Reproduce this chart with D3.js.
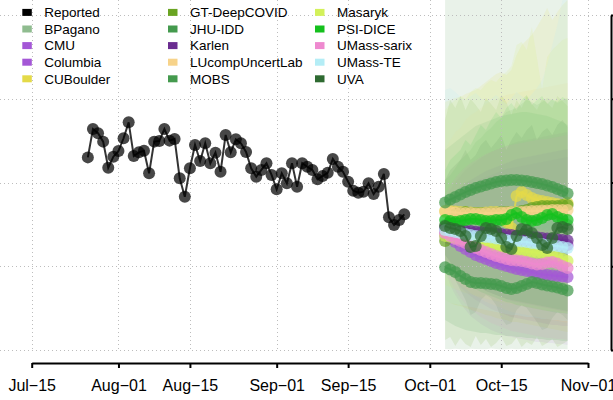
<!DOCTYPE html>
<html>
<head>
<meta charset="utf-8">
<script src="https://cdn.jsdelivr.net/npm/d3@7"></script>
<style>
  html, body { margin: 0; padding: 0; background: #fff; }
  svg { display: block; font-family: "Liberation Sans", Arial, Helvetica, sans-serif; }
</style>
</head>
<body>
<svg id="chart" width="613" height="400"></svg>
<script>
// ---- axis ticks ----
const tickDates = ["2021-07-15", "2021-08-01", "2021-08-15", "2021-09-01", "2021-09-15", "2021-10-01", "2021-10-15", "2021-11-01"];
const tickLabels = ["Jul\u221215", "Aug\u221201", "Aug\u221215", "Sep\u221201", "Sep\u221215", "Oct\u221201", "Oct\u221215", "Nov\u221201"];
const yTicks = [0, 500, 1000, 1500, 2000];

// ---- reported daily counts ----
const reportedStart = "2021-07-26";
const reported = [1150, 1319, 1294, 1244, 1088, 1154, 1188, 1264, 1359, 1158,
  1180, 1190, 1055, 1244, 1248, 1319, 1250, 1260, 1025, 915,
  1085, 1224, 1128, 1234, 1115, 1178, 1064, 1284, 1180, 1258,
  1234, 1182, 1085, 1035, 1075, 1115, 1045, 959, 1055, 995,
  1115, 975, 1115, 1094, 1075, 1019, 1039, 1058, 1140, 1094,
  1064, 1005, 951, 939, 945, 995, 931, 975, 1051, 792,
  746, 776, 810];

// ---- forecasts: daily from this date ----
const forecastStart = "2021-10-04";

const modelNames = ["BPagano", "CMU", "Columbia", "CUBoulder", "GT-DeepCOVID", "JHU-IDD", "Karlen",
  "LUcompUncertLab", "MOBS", "Masaryk", "PSI-DICE", "UMass-sarix", "UMass-TE", "UVA"];
const modelColors = ["#8fbc8f", "#a457d6", "#a457d6", "#e4da48", "#6aa422", "#449a4e", "#6a2c90",
  "#f7d38a", "#449a4e", "#d3f15a", "#14c01d", "#ee89cf", "#b4edf6", "#2e6a31"];
const bandOpacity = [0.2, 0.09, 0.09, 0.12, 0.12, 0.12, 0.08, 0.12, 0.12, 0.12, 0.1, 0.09, 0.15, 0.08];

const bpaganoMedian = [746, 752, 743, 749, 755, 746, 740, 749, 752, 746, 743, 749, 755, 752, 746, 743, 749, 752, 758, 752, 746, 749, 755, 752, 746];
const bpaganoLower = [6, 4, 8, 5, 3, 7, 6, 4, 5, 9, 6, 3, 5, 7, 4, 6, 8, 5, 3, 6, 7, 4, 5, 6, 4];
const bpaganoUpper = [2260, 2310, 2280, 2330, 2300, 2270, 2320, 2350, 2290, 2310, 2340, 2300, 2280, 2330, 2360, 2310, 2290, 2340, 2320, 2370, 2300, 2330, 2350, 2310, 2340];

const cmuMedian = [681, 663, 645, 621, 603, 585, 567, 555, 543, 531, 519, 510, 501, 493, 484, 478, 472, 466, 457, 451, 448, 445, 442, 439, 436];
const cmuLower = [478, 388, 328, 281, 239, 203, 179, 155, 137, 119, 107, 96, 84, 78, 72, 66, 60, 54, 48, 48, 42, 42, 36, 36, 30];
const cmuUpper = [866, 896, 919, 943, 967, 985, 1003, 1021, 1033, 1045, 1057, 1069, 1081, 1087, 1093, 1098, 1104, 1110, 1116, 1122, 1128, 1134, 1140, 1146, 1152];

const columbiaMedian = [704, 699, 697, 693, 688, 686, 681, 679, 675, 671, 669, 667, 663, 659, 657, 654, 650, 648, 645, 641, 639, 636, 633, 630, 627];
const columbiaLower = [525, 466, 418, 376, 346, 322, 299, 281, 263, 245, 233, 221, 209, 197, 191, 185, 179, 173, 167, 161, 155, 149, 149, 143, 143];
const columbiaUpper = [896, 955, 1003, 1039, 1075, 1098, 1122, 1146, 1164, 1182, 1194, 1206, 1218, 1230, 1242, 1248, 1254, 1260, 1266, 1272, 1278, 1284, 1290, 1295, 1301];

const cuboulderMedian = [830, 830, 827, 824, 824, 821, 818, 818, 821, 824, 824, 818, 764, 728, 919, 943, 925, 907, 896, 890, 884, 878, 872, 866, 878];
const cuboulderLower = [299, 281, 269, 263, 251, 239, 233, 221, 209, 203, 191, 185, 179, 167, 167, 161, 155, 149, 143, 137, 131, 125, 119, 113, 107];
const cuboulderUpper = [1481, 1493, 1504, 1510, 1528, 1540, 1552, 1576, 1600, 1624, 1648, 1660, 1642, 1672, 1761, 1821, 1851, 1881, 1928, 1982, 2042, 1970, 2018, 2060, 2090];

const gtMedian = [651, 764, 812, 818, 824, 818, 818, 818, 818, 818, 818, 824, 824, 824, 824, 830, 836, 848, 854, 860, 860, 860, 860, 866, 866];
const gtLower = [60, 78, 24, 72, 36, 18, 84, 30, 66, 18, 42, 78, 24, 36, 72, 18, 48, 30, 78, 24, 42, 66, 18, 36, 54];
const gtUpper = [1373, 1493, 1445, 1516, 1433, 1498, 1463, 1421, 1504, 1469, 1433, 1522, 1481, 1403, 1493, 1445, 1516, 1469, 1433, 1498, 1475, 1445, 1516, 1487, 1457];

const jhuMedian = [494, 481, 466, 442, 424, 406, 400, 400, 397, 394, 391, 382, 370, 364, 370, 382, 394, 406, 400, 391, 385, 379, 373, 364, 355];
const jhuLower = [179, 161, 143, 131, 119, 113, 107, 101, 101, 96, 90, 90, 84, 84, 78, 78, 72, 72, 66, 66, 60, 60, 60, 54, 54];
const jhuUpper = [1015, 1045, 1087, 1134, 1164, 1194, 1242, 1266, 1301, 1325, 1361, 1385, 1421, 1433, 1445, 1469, 1493, 1481, 1463, 1481, 1504, 1493, 1475, 1493, 1504];

const karlenMedian = [728, 722, 720, 716, 712, 710, 706, 704, 700, 698, 695, 693, 689, 687, 684, 681, 679, 675, 673, 669, 666, 663, 661, 657, 654];
const karlenLower = [567, 525, 490, 460, 430, 406, 388, 370, 352, 340, 328, 316, 304, 293, 287, 281, 275, 269, 263, 257, 251, 245, 239, 233, 227];
const karlenUpper = [896, 925, 949, 973, 997, 1015, 1033, 1051, 1069, 1081, 1093, 1104, 1116, 1128, 1140, 1146, 1152, 1158, 1164, 1170, 1176, 1182, 1188, 1194, 1200];

const lucompMedian = [824, 824, 821, 818, 818, 818, 815, 815, 818, 818, 818, 821, 821, 824, 824, 824, 827, 830, 830, 833, 833, 836, 836, 836, 836];
const lucompLower = [478, 442, 412, 388, 364, 340, 322, 304, 287, 275, 263, 251, 239, 227, 221, 215, 209, 203, 197, 191, 185, 179, 173, 167, 161];
const lucompUpper = [1194, 1254, 1301, 1325, 1373, 1403, 1421, 1445, 1469, 1487, 1498, 1510, 1522, 1528, 1534, 1540, 1546, 1552, 1558, 1564, 1570, 1576, 1582, 1588, 1594];

const mobsMedian = [881, 898, 913, 928, 943, 955, 967, 976, 985, 994, 1003, 1009, 1012, 1015, 1015, 1012, 1009, 1003, 997, 991, 982, 973, 961, 949, 934];
const mobsLower = [567, 525, 490, 460, 436, 412, 388, 370, 352, 340, 328, 316, 304, 299, 293, 287, 281, 275, 269, 263, 257, 251, 245, 239, 233];
const mobsUpper = [1194, 1218, 1242, 1266, 1290, 1313, 1337, 1349, 1361, 1373, 1385, 1397, 1403, 1409, 1415, 1421, 1421, 1415, 1409, 1403, 1397, 1385, 1373, 1361, 1343];

const masarykMedian = [681, 676, 668, 663, 658, 650, 646, 638, 633, 628, 620, 615, 609, 602, 597, 591, 588, 585, 581, 579, 573, 567, 555, 543, 531];
const masarykLower = [388, 376, 364, 352, 340, 334, 322, 316, 304, 299, 293, 287, 281, 275, 269, 263, 257, 251, 245, 239, 233, 233, 227, 221, 221];
const masarykUpper = [1433, 1469, 1493, 1516, 1498, 1540, 1564, 1552, 1588, 1612, 1600, 1636, 1660, 1695, 1821, 1839, 1791, 1928, 1743, 1552, 1749, 1791, 1821, 1851, 1863];

const psiMedian = [776, 770, 764, 770, 776, 782, 782, 776, 770, 770, 776, 776, 782, 806, 818, 794, 776, 770, 776, 788, 806, 812, 794, 782, 776];
const psiLower = [525, 478, 448, 430, 406, 382, 364, 346, 334, 322, 310, 299, 287, 281, 269, 263, 257, 251, 245, 239, 233, 227, 221, 221, 215];
const psiUpper = [1075, 1134, 1164, 1194, 1254, 1224, 1284, 1343, 1313, 1373, 1421, 1385, 1445, 1475, 1433, 1493, 1522, 1463, 1493, 1516, 1469, 1498, 1481, 1510, 1493];

const sarixMedian = [698, 681, 663, 651, 639, 624, 609, 597, 585, 573, 561, 552, 543, 537, 534, 531, 525, 516, 510, 513, 522, 525, 516, 501, 490];
const sarixLower = [490, 418, 358, 310, 275, 245, 221, 197, 179, 161, 149, 137, 125, 113, 107, 101, 96, 90, 84, 78, 72, 72, 66, 66, 60];
const sarixUpper = [925, 985, 1027, 1063, 1093, 1116, 1134, 1152, 1170, 1182, 1194, 1206, 1218, 1224, 1230, 1236, 1242, 1248, 1254, 1260, 1260, 1266, 1272, 1278, 1284];

const umassTeMedian = [716, 710, 704, 698, 693, 687, 681, 678, 675, 672, 666, 663, 657, 654, 651, 648, 645, 639, 636, 633, 627, 624, 621, 615, 609];
const umassTeLower = [299, 281, 275, 269, 263, 257, 251, 245, 239, 233, 227, 221, 215, 209, 209, 203, 197, 197, 191, 185, 185, 179, 179, 173, 173];
const umassTeUpper = [1552, 1564, 1540, 1510, 1493, 1516, 1534, 1504, 1487, 1498, 1522, 1493, 1469, 1504, 1540, 1516, 1493, 1528, 1564, 1612, 1701, 1821, 1940, 2090, 2209];

const uvaMedian = [740, 728, 722, 710, 681, 615, 621, 681, 728, 722, 710, 669, 615, 603, 681, 722, 716, 698, 669, 627, 609, 669, 728, 734, 722];
const uvaLower = [478, 448, 418, 358, 299, 209, 227, 299, 328, 310, 269, 191, 149, 161, 239, 269, 251, 209, 167, 119, 131, 191, 227, 209, 179];
const uvaUpper = [1015, 1075, 1104, 1134, 1194, 1134, 1164, 1224, 1254, 1206, 1242, 1284, 1194, 1254, 1301, 1266, 1313, 1343, 1254, 1301, 1325, 1284, 1343, 1373, 1331];

const medians = [bpaganoMedian, cmuMedian, columbiaMedian, cuboulderMedian, gtMedian, jhuMedian, karlenMedian,
  lucompMedian, mobsMedian, masarykMedian, psiMedian, sarixMedian, umassTeMedian, uvaMedian];
const lowers = [bpaganoLower, cmuLower, columbiaLower, cuboulderLower, gtLower, jhuLower, karlenLower,
  lucompLower, mobsLower, masarykLower, psiLower, sarixLower, umassTeLower, uvaLower];
const uppers = [bpaganoUpper, cmuUpper, columbiaUpper, cuboulderUpper, gtUpper, jhuUpper, karlenUpper,
  lucompUpper, mobsUpper, masarykUpper, psiUpper, sarixUpper, umassTeUpper, uvaUpper];

// ---- setup ----
const svg = d3.select("#chart");
const parse = d3.utcParse("%Y-%m-%d");
const dayAfter = (start, i) => d3.utcDay.offset(parse(start), i);

const x = d3.scaleUtc()
  .domain([parse(tickDates[0]), parse(tickDates[tickDates.length - 1])])
  .range([31.7, 588]);
const y = d3.scaleLinear().domain([0, 2000]).range([350, 15]);

const models = modelNames.map((name, m) => ({
  name,
  color: modelColors[m],
  opacity: bandOpacity[m],
  points: medians[m].map((v, i) => ({ date: dayAfter(forecastStart, i), v, lo: lowers[m][i], hi: uppers[m][i] }))
}));
const reportedPts = reported.map((v, i) => ({ date: dayAfter(reportedStart, i), v }));

// ---- prediction intervals ----
const band = d3.area()
  .x(d => x(d.date))
  .y0(d => y(d.lo))
  .y1(d => y(d.hi));
svg.append("g").selectAll("path").data(models).join("path")
  .attr("d", d => band(d.points))
  .attr("fill", d => d.color)
  .attr("fill-opacity", d => d.opacity)
  .attr("stroke", "none");

// ---- dotted grid ----
const grid = svg.append("g")
  .attr("stroke", "#bdbdbd")
  .attr("stroke-width", 1)
  .attr("stroke-dasharray", "1,3");
grid.selectAll("line.h").data(yTicks).join("line").attr("class", "h")
  .attr("x1", 0).attr("x2", 611)
  .attr("y1", d => Math.round(y(d)) + 0.5).attr("y2", d => Math.round(y(d)) + 0.5);
grid.selectAll("line.v").data(tickDates).join("line").attr("class", "v")
  .attr("x1", d => Math.round(x(parse(d))) + 0.5).attr("x2", d => Math.round(x(parse(d))) + 0.5)
  .attr("y1", 0).attr("y2", 350);

// ---- reported series ----
const line = d3.line().x(d => x(d.date)).y(d => y(d.v));
svg.append("path").datum(reportedPts)
  .attr("d", line)
  .attr("fill", "none").attr("stroke", "#000").attr("stroke-opacity", 0.8).attr("stroke-width", 2);
svg.append("g").selectAll("circle").data(reportedPts).join("circle")
  .attr("cx", d => x(d.date)).attr("cy", d => y(d.v)).attr("r", 6)
  .attr("fill", "#000").attr("fill-opacity", 0.72);

// ---- forecast medians ----
const mg = svg.append("g");
models.forEach(m => {
  mg.append("path").datum(m.points)
    .attr("d", line)
    .attr("fill", "none").attr("stroke", m.color).attr("stroke-opacity", 0.8).attr("stroke-width", 2);
  mg.append("g").selectAll("circle").data(m.points).join("circle")
    .attr("cx", d => x(d.date)).attr("cy", d => y(d.v)).attr("r", 6)
    .attr("fill", m.color).attr("fill-opacity", 0.72);
});

// ---- axes ----
const xAxis = d3.axisBottom(x)
  .tickValues(tickDates.map(parse))
  .tickFormat((d, i) => tickLabels[i])
  .tickSize(5).tickSizeOuter(0).tickPadding(12);
const gx = svg.append("g").attr("transform", "translate(0,363)").call(xAxis);
gx.select(".domain").attr("stroke", "#000").attr("stroke-width", 2);
gx.selectAll(".tick line").attr("stroke", "#000").attr("stroke-width", 2);
gx.selectAll(".tick text").attr("fill", "#000").style("font-size", "16px")
  .style("font-family", "'Liberation Sans', Arial, Helvetica, sans-serif");

const yAxis = d3.axisRight(y).tickValues(yTicks).tickFormat("").tickSize(8).tickSizeOuter(0);
const gy = svg.append("g").attr("transform", "translate(611,0)").call(yAxis);
gy.select(".domain").attr("stroke", "#000").attr("stroke-width", 2);
gy.selectAll(".tick line").attr("stroke", "#000").attr("stroke-width", 2);

// ---- legend ----
const legendItems = [{ name: "Reported", color: "#000" }].concat(models.map(m => ({ name: m.name, color: m.color })));
const colX = [22.3, 168, 315];
const rowY = [12.4, 29, 45.6, 62.2, 78.8];
const lg = svg.append("g");
legendItems.forEach((it, k) => {
  const c = Math.floor(k / 5), r = k % 5;
  lg.append("rect")
    .attr("x", colX[c]).attr("y", rowY[r] - 3.5)
    .attr("width", 9.5).attr("height", 7)
    .attr("fill", it.color);
  lg.append("text")
    .attr("x", colX[c] + 22).attr("y", rowY[r] + 4.8)
    .attr("fill", "#000")
    .style("font-size", "13.5px")
    .text(it.name);
});
</script>
</body>
</html>
